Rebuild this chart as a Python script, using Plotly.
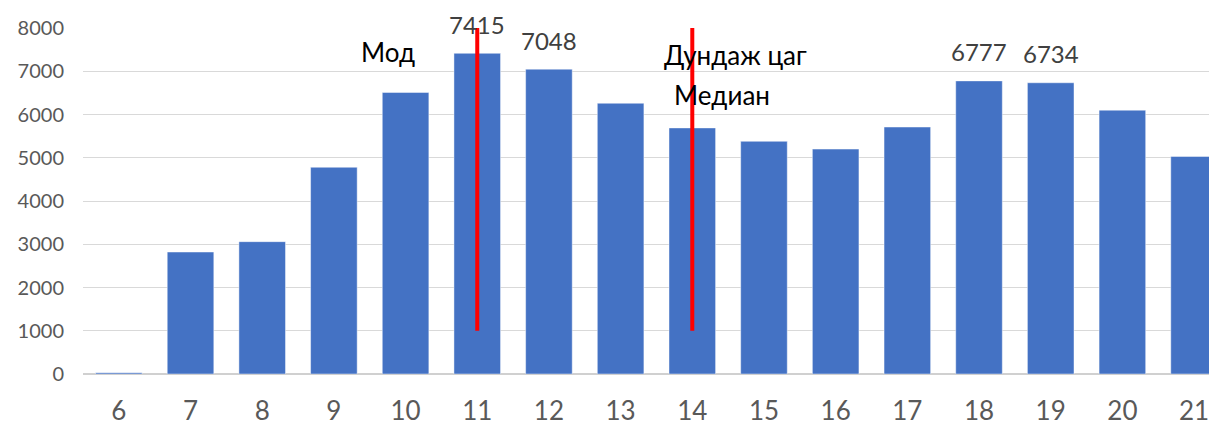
import plotly.graph_objects as go

hours = ["6", "7", "8", "9", "10", "11", "12", "13", "14", "15", "16", "17", "18", "19", "20", "21"]
counts = [30, 2820, 3060, 4780, 6510, 7415, 7048, 6260, 5690, 5380, 5200, 5710, 6777, 6734, 6100, 5030]
labeled_hours = ["11", "12", "18", "19"]

mode_hour = "11"
median_hour = "14"
line_bottom = 1000
line_top = 8000

bar_color = "#4472C4"
font_family = "Lato, 'Open Sans', sans-serif"

fig = go.Figure()
fig.add_trace(go.Bar(
    x=hours, y=counts,
    marker=dict(color=bar_color, line=dict(color="rgba(255,255,255,0.45)", width=1)),
    showlegend=False,
))

for h in (mode_hour, median_hour):
    fig.add_trace(go.Scatter(
        x=[h, h], y=[line_bottom, line_top], mode="lines",
        line=dict(color="#FF0000", width=4), showlegend=False, cliponaxis=False,
    ))

for h in labeled_hours:
    i = hours.index(h)
    v = counts[i]
    fig.add_annotation(x=i, y=v, text=str(v), showarrow=False, yanchor="middle",
                       yshift=29, font=dict(size=24, color="#404040", family=font_family))

fig.add_annotation(x=3.75, y=7440, text="Мод", showarrow=False,
                   font=dict(size=26, color="#000000", family=font_family))
fig.add_annotation(x=8.6, y=7370, text="Дундаж цаг", showarrow=False,
                   font=dict(size=26, color="#000000", family=font_family))
fig.add_annotation(x=8.42, y=6440, text="Медиан", showarrow=False,
                   font=dict(size=26, color="#000000", family=font_family))

fig.update_layout(
    width=1209, height=418,
    margin=dict(l=75, r=0, t=20, b=52),
    plot_bgcolor="white", paper_bgcolor="white",
    bargap=0.35,
    font=dict(family=font_family),
    xaxis=dict(
        type="category", range=[-0.5, 15.32],
        showgrid=False, showline=False,
        ticks="outside", ticklen=14, tickcolor="rgba(0,0,0,0)",
        tickfont=dict(size=26, color="#595959"),
    ),
    yaxis=dict(
        range=[0, 8000], dtick=1000,
        showgrid=True, gridcolor="#d9d9d9", gridwidth=1.3,
        zeroline=True, zerolinecolor="#d0d0d0", zerolinewidth=2,
        tickfont=dict(size=20, color="#595959"),
        ticklabelstandoff=18,
    ),
)

fig.write_html("out.html")
